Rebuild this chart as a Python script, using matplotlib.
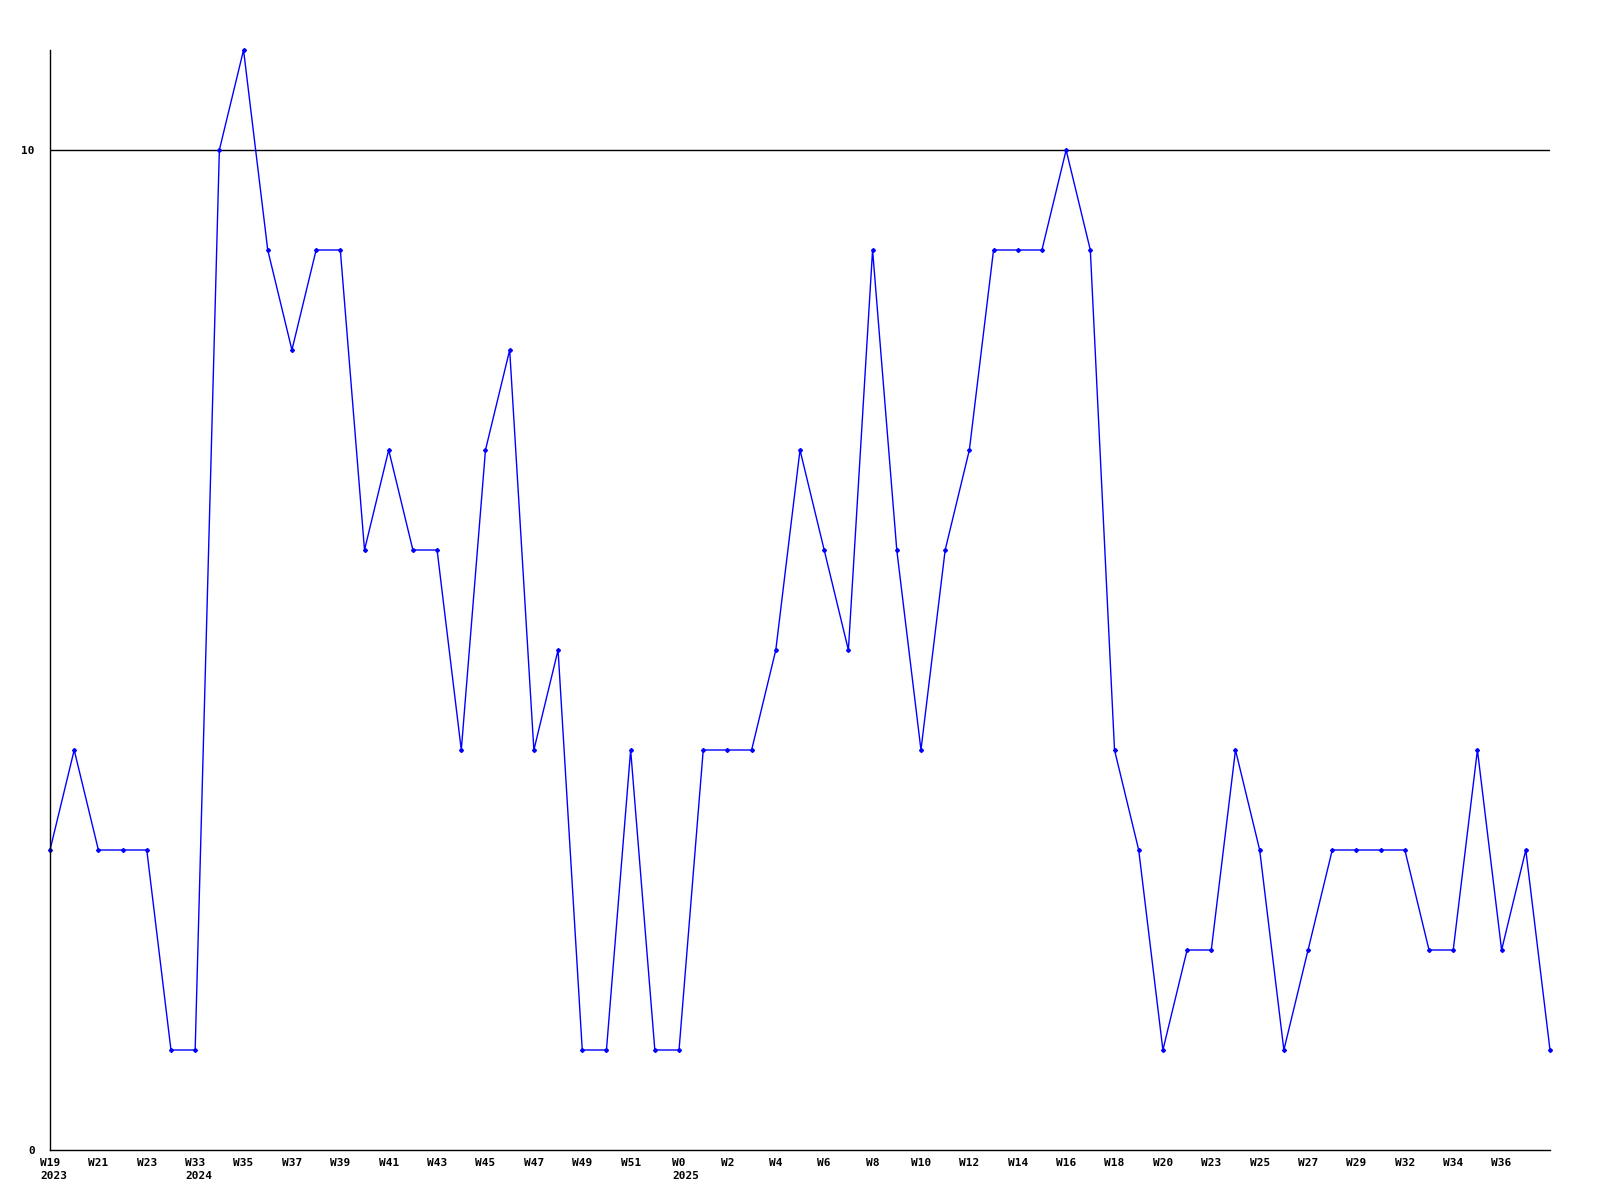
import matplotlib
matplotlib.use("Agg")
import matplotlib.pyplot as plt
import matplotlib.transforms as mtransforms

# valori settimanali
values = [3, 4, 3, 3, 3, 1, 1, 10, 11, 9, 8, 9, 9, 6, 7, 6, 6, 4, 7, 8,
          4, 5, 1, 1, 4, 1, 1, 4, 4, 4, 5, 7, 6, 5, 9, 6, 4, 6, 7, 9,
          9, 9, 10, 9, 4, 3, 1, 2, 2, 4, 3, 1, 2, 3, 3, 3, 3, 2, 2, 4,
          2, 3, 1]

# etichette ogni due settimane
tick_labels = ["W19", "W21", "W23", "W33", "W35", "W37", "W39",
               "W41", "W43", "W45", "W47", "W49", "W51", "W0", "W2",
               "W4", "W6", "W8", "W10", "W12", "W14", "W16", "W18", "W20",
               "W23", "W25", "W27", "W29", "W32", "W34", "W36"]

# anni sotto la prima settimana di ciascuno
year_pos = [0, 6, 26]
year_labels = ["2023", "2024", "2025"]

font = dict(family="DejaVu Sans Mono", fontweight="bold", fontsize=8)

x = list(range(len(values)))

fig = plt.figure(figsize=(16, 12), dpi=100)
ax = fig.add_axes([50 / 1600, 50 / 1200, 1500 / 1600, 1100 / 1200])

ax.axhline(10, color="black", linewidth=1)
ax.plot(x, values, color="#0000ff", linewidth=1, marker="D", markersize=2,
        clip_on=False)

ax.set_xlim(0, len(values) - 1)
ax.set_ylim(0, 11)
ax.set_yticks([0, 10])
ax.set_yticklabels(["0", "10"])
ax.set_xticks(x[::2][:len(tick_labels)])
ax.set_xticklabels(tick_labels)

for lab in ax.get_xticklabels() + ax.get_yticklabels():
    lab.set_family(font["family"])
    lab.set_fontweight(font["fontweight"])
    lab.set_fontsize(font["fontsize"])

# anni: allineati a sinistra con l'etichetta della settimana
base = mtransforms.blended_transform_factory(ax.transData, ax.transAxes)
for pos, yr in zip(year_pos, year_labels):
    wlab = tick_labels[pos // 2]
    shift = -len(wlab) * 6.7 / 2
    tr = mtransforms.offset_copy(base, fig=fig, x=shift, y=-21, units="dots")
    ax.text(pos, 0, yr, transform=tr, ha="left", va="top", **font)

ax.tick_params(axis="x", length=0, pad=6)
ax.tick_params(axis="y", length=0, pad=11)
ax.spines["top"].set_visible(False)
ax.spines["right"].set_visible(False)
ax.spines["left"].set_linewidth(1)
ax.spines["bottom"].set_linewidth(1)

fig.savefig("out.png", dpi=100)
